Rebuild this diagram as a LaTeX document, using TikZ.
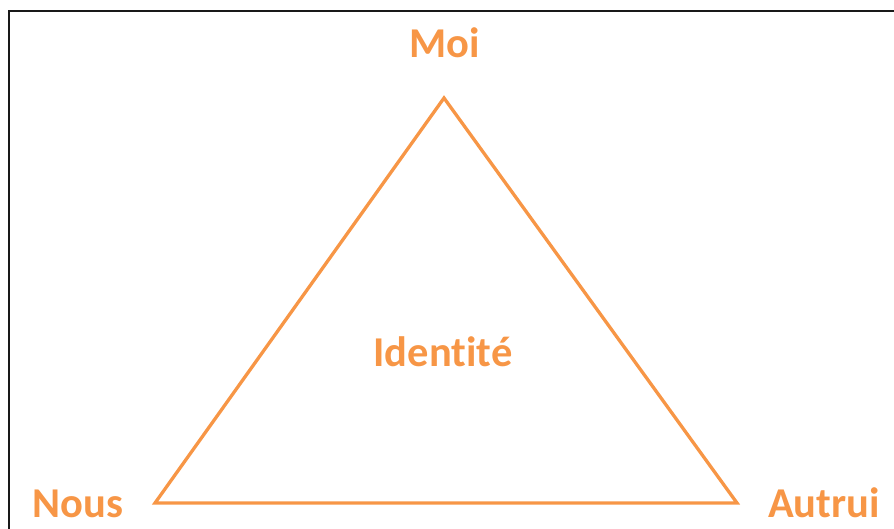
\documentclass[tikz,border=0pt]{standalone}
\usepackage{fontspec}
\setmainfont[Ligatures=NoCommon]{Carlito}
\definecolor{orng}{HTML}{F79646}
\begin{document}
\begin{tikzpicture}[x=1pt,y=-1pt,
  lbl/.style={text=orng,font=\fontsize{42.5}{50}\selectfont\bfseries,anchor=base,inner sep=0pt},
  edge/.style={draw=orng,line width=3.3pt,line join=miter}]
\useasboundingbox (0,0) rectangle (894,529);
\draw[line width=2.6pt,black!90] (9,529) -- (9,11) -- (894,11);
\coordinate (top) at (444,98);
\coordinate (bl) at (155,503);
\coordinate (br) at (737,503);
\draw[edge] (top) -- (br) -- (bl) -- cycle;
\node[lbl] (moi) at (445,58) {Moi};
\node[lbl] (nous) at (78,517) {Nous};
\node[lbl] (autrui) at (824,517) {Autrui};
\node[lbl] (id) at (443,366) {Identité};
\end{tikzpicture}
\end{document}
